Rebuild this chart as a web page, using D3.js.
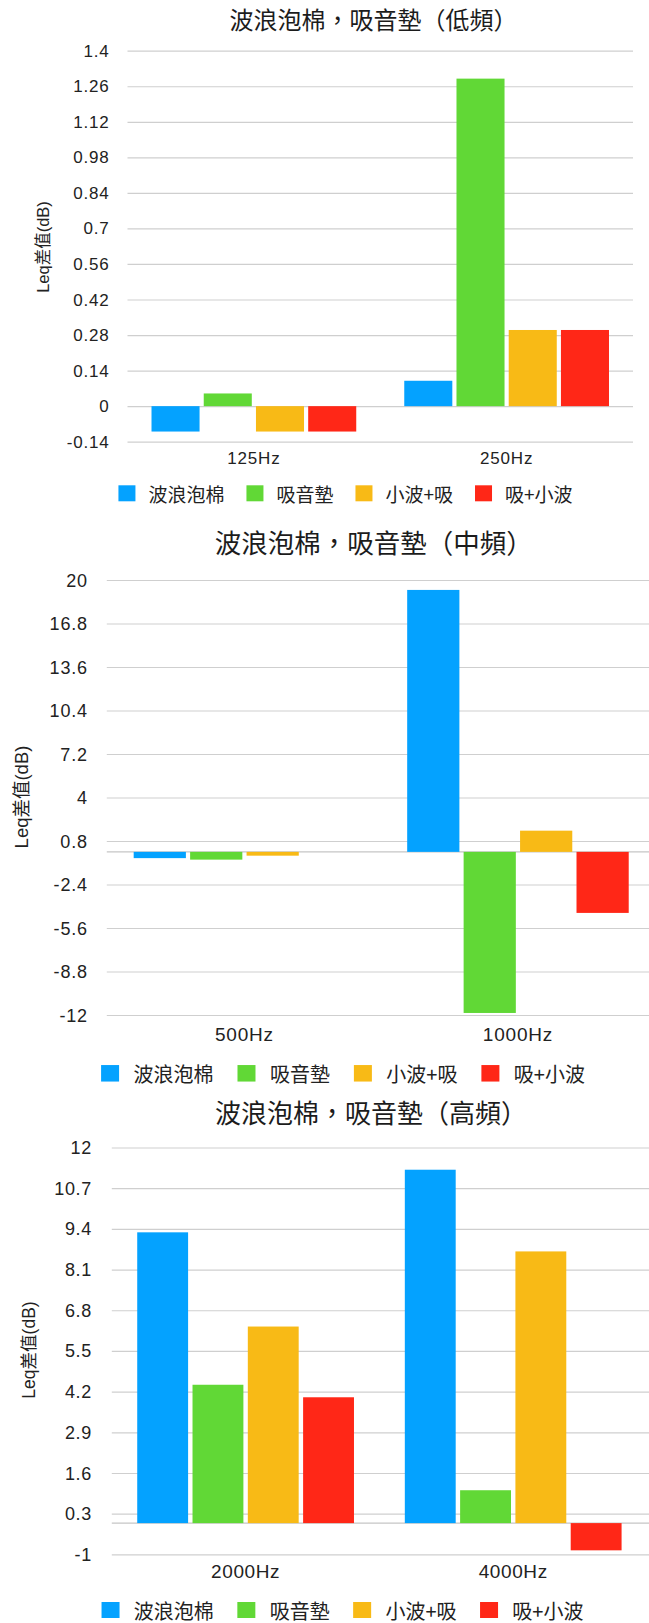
<!DOCTYPE html>
<html>
<head>
<meta charset="utf-8">
<script src="https://cdn.jsdelivr.net/npm/d3@7"></script>
<style>
  body { margin: 0; background: #fff; }
  svg { display: block; }
</style>
</head>
<body>
<div id="chart"></div>
<script>
// series names and colours (same for all three charts)
var seriesNames = ['波浪泡棉', '吸音墊', '小波+吸', '吸+小波'];
var seriesColors = ['#04a2ff', '#61d836', '#f8ba16', '#ff2717'];

// low frequency
var lowCats = ['125Hz', '250Hz'];
var lowWave = [-0.1, 0.1];
var lowPad = [0.05, 1.29];
var lowSmallWavePad = [-0.1, 0.3];
var lowPadSmallWave = [-0.1, 0.3];
var lowTicks = [-0.14, 0, 0.14, 0.28, 0.42, 0.56, 0.7, 0.84, 0.98, 1.12, 1.26, 1.4];

// mid frequency
var midCats = ['500Hz', '1000Hz'];
var midWave = [-0.46, 19.27];
var midPad = [-0.57, -11.85];
var midSmallWavePad = [-0.28, 1.56];
var midPadSmallWave = [0, -4.49];
var midTicks = [-12, -8.8, -5.6, -2.4, 0.8, 4, 7.2, 10.4, 13.6, 16.8, 20];

// high frequency
var highCats = ['2000Hz', '4000Hz'];
var highWave = [9.29, 11.29];
var highPad = [4.42, 1.05];
var highSmallWavePad = [6.28, 8.68];
var highPadSmallWave = [4.02, -0.87];
var highTicks = [-1, 0.3, 1.6, 2.9, 4.2, 5.5, 6.8, 8.1, 9.4, 10.7, 12];

var yTitle = 'Leq差值(dB)';

var latin = "'Liberation Sans', Arial, 'Noto Sans CJK TC', sans-serif";
var cjk = "'Noto Sans CJK TC', 'Liberation Sans', sans-serif";

var width = 649;
var height = 1623;

var svg = d3.select('#chart').append('svg')
    .attr('width', width)
    .attr('height', height);

function drawChart(opt) {
    var g = svg.append('g');

    // scales
    var y = d3.scaleLinear().domain([opt.ticks[0], opt.ticks[opt.ticks.length - 1]]).range([opt.bottom, opt.top]);
    var x0 = d3.scaleBand().domain(opt.cats).range([opt.left, opt.right])
        .paddingInner(0.19).paddingOuter(0.095);
    var x1 = d3.scaleBand().domain(seriesNames).range([0, x0.bandwidth()])
        .paddingInner(opt.barPad);

    // title
    g.append('text')
        .attr('x', opt.titleX)
        .attr('y', opt.titleY)
        .attr('text-anchor', 'middle')
        .attr('dominant-baseline', 'central')
        .style('font-family', cjk)
        .style('font-size', opt.titleSize + 'px')
        .attr('fill', '#1c1c1c')
        .text(opt.title);

    // grid + tick labels
    var axis = g.append('g')
        .attr('transform', 'translate(' + opt.gridLeft + ',0)')
        .call(d3.axisLeft(y)
            .tickValues(opt.ticks)
            .tickFormat(function (d) { return String(d); })
            .tickSize(-(opt.gridRight - opt.gridLeft))
            .tickPadding(opt.tickPad));
    axis.select('.domain').remove();
    axis.selectAll('line')
        .attr('stroke', '#cfcfcf')
        .attr('stroke-width', 1.2);
    axis.selectAll('text')
        .attr('dy', null)
        .attr('dominant-baseline', 'central')
        .attr('fill', '#222')
        .style('font-family', latin)
        .style('font-size', opt.tickSize + 'px')
        .style('letter-spacing', opt.ls + 'px');

    // zero line
    if (opt.ticks.indexOf(0) < 0) {
        g.append('line')
            .attr('x1', opt.gridLeft)
            .attr('x2', opt.gridRight)
            .attr('y1', y(0))
            .attr('y2', y(0))
            .attr('stroke', '#c6c6c6')
            .attr('stroke-width', 1.4);
    }

    // bars
    var rows = [];
    opt.cats.forEach(function (c, i) {
        opt.series.forEach(function (vals, j) {
            rows.push({ cat: c, name: seriesNames[j], color: seriesColors[j], value: vals[i] });
        });
    });
    g.selectAll('.bar')
        .data(rows)
        .enter().append('rect')
        .attr('class', 'bar')
        .attr('x', function (d) { return x0(d.cat) + x1(d.name); })
        .attr('y', function (d) { return Math.min(y(d.value), y(0)); })
        .attr('width', x1.bandwidth())
        .attr('height', function (d) { return Math.abs(y(d.value) - y(0)); })
        .attr('fill', function (d) { return d.color; });

    // category labels
    g.selectAll('.cat')
        .data(opt.cats)
        .enter().append('text')
        .attr('x', function (d) { return x0(d) + x0.bandwidth() / 2; })
        .attr('y', opt.xLabelY)
        .attr('text-anchor', 'middle')
        .attr('dominant-baseline', 'central')
        .attr('fill', '#222')
        .style('font-family', latin)
        .style('font-size', opt.xLabelSize + 'px')
        .style('letter-spacing', opt.ls + 'px')
        .text(function (d) { return d; });

    // y title
    g.append('text')
        .attr('transform', 'translate(' + opt.yLabelX + ',' + opt.yLabelY + ') rotate(-90)')
        .attr('text-anchor', 'middle')
        .attr('dominant-baseline', 'central')
        .attr('fill', '#222')
        .style('font-family', latin)
        .style('font-size', opt.yLabelSize + 'px')
        .text(yTitle);

    // legend, laid out from measured text widths and centred
    var leg = g.append('g');
    var cx = 0;
    seriesNames.forEach(function (name, j) {
        leg.append('rect')
            .attr('x', cx)
            .attr('y', opt.legendY - opt.sh / 2)
            .attr('width', opt.sw)
            .attr('height', opt.sh)
            .attr('fill', seriesColors[j]);
        var t = leg.append('text')
            .attr('x', cx + opt.swGap)
            .attr('y', opt.legendY)
            .attr('dominant-baseline', 'central')
            .attr('fill', '#222')
            .style('font-family', cjk)
            .style('font-size', opt.legendSize + 'px')
            .text(name);
        cx += opt.swGap + t.node().getComputedTextLength();
        if (j < seriesNames.length - 1) cx += opt.itemGap;
    });
    leg.attr('transform', 'translate(' + (opt.legendCx - cx / 2) + ',0)');
}

drawChart({
    title: '波浪泡棉，吸音墊（低頻）',
    cats: lowCats,
    series: [lowWave, lowPad, lowSmallWavePad, lowPadSmallWave],
    ticks: lowTicks,
    top: 50.7, bottom: 441.7, left: 127.5, right: 633,
    gridLeft: 127.5, gridRight: 633, tickPad: 18,
    titleX: 373.6, titleY: 18.5, titleSize: 24,
    tickSize: 17, ls: 0.8, xLabelY: 458.3, xLabelSize: 17,
    yLabelX: 43, yLabelY: 247, yLabelSize: 16.5,
    legendY: 493.3, legendCx: 345.5, legendSize: 19,
    sw: 17, sh: 16, swGap: 30, itemGap: 22, barPad: 0.08
});

drawChart({
    title: '波浪泡棉，吸音墊（中頻）',
    cats: midCats,
    series: [midWave, midPad, midSmallWavePad, midPadSmallWave],
    ticks: midTicks,
    top: 580, bottom: 1015, left: 107.7, right: 654.7,
    gridLeft: 106.8, gridRight: 649, tickPad: 19,
    titleX: 373.7, titleY: 541, titleSize: 26.5,
    tickSize: 18, ls: 0.8, xLabelY: 1034, xLabelSize: 19,
    yLabelX: 21.5, yLabelY: 797, yLabelSize: 18.5,
    legendY: 1073.3, legendCx: 343, legendSize: 20,
    sw: 18, sh: 16.5, swGap: 32.4, itemGap: 24, barPad: 0.075
});

drawChart({
    title: '波浪泡棉，吸音墊（高頻）',
    cats: highCats,
    series: [highWave, highPad, highSmallWavePad, highPadSmallWave],
    ticks: highTicks,
    top: 1147.5, bottom: 1554.4, left: 111.8, right: 647,
    gridLeft: 111.8, gridRight: 649, tickPad: 20,
    titleX: 371, titleY: 1111.5, titleSize: 26,
    tickSize: 18, ls: 0.6, xLabelY: 1571.7, xLabelSize: 19,
    yLabelX: 29, yLabelY: 1350, yLabelSize: 17.5,
    legendY: 1610, legendCx: 342.5, legendSize: 20,
    sw: 18, sh: 16, swGap: 32.3, itemGap: 23.5, barPad: 0.08
});
</script>
</body>
</html>
